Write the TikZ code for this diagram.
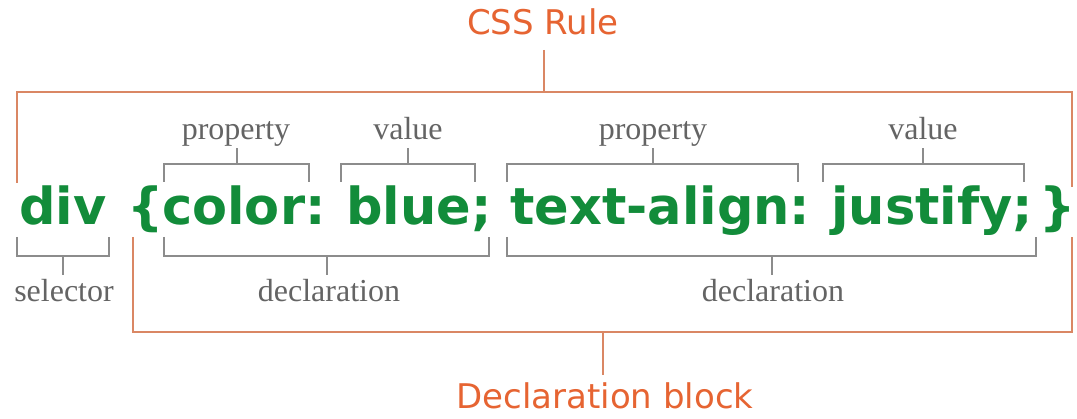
\documentclass[tikz,border=0pt]{standalone}
\usepackage{fontspec}
\newfontfamily\sansf{DejaVu Sans}
\newfontfamily\serf{Liberation Serif}
\definecolor{cssgreen}{RGB}{18,140,58}
\definecolor{orangetxt}{RGB}{230,100,50}
\definecolor{orangeln}{RGB}{218,135,100}
\definecolor{grayln}{RGB}{140,140,140}
\definecolor{graytxt}{RGB}{100,100,100}
\tikzset{
  code/.style={anchor=base west, inner sep=0pt, text=cssgreen, font=\sansf\bfseries\fontsize{51}{60}\selectfont},
  glabel/.style={anchor=base, inner sep=0pt, text=graytxt, font=\serf\fontsize{32}{38}\selectfont},
  olabel/.style={anchor=base, inner sep=0pt, text depth=0pt, text=orangetxt, font=\sansf\fontsize{34}{40}\selectfont},
  graybr/.style={draw=grayln, line width=2pt},
  orangebr/.style={draw=orangeln, line width=2pt},
}
\begin{document}
\begin{tikzpicture}[x=1pt,y=-1pt]
\useasboundingbox (0,0) rectangle (1077,419);
% titles
\node[olabel] (rule) at (543,35) {CSS Rule};
\node[olabel] (block) at (605,409) {Declaration block};
% code
\node[code] (div) at (19,225) {div};
\node[code] (ob) at (127,225) {\{};
\node[code] (color) at (162,225) {color:};
\node[code] (blue) at (346,225) {blue;};
\node[code] (talign) at (510,225) {text-align:};
\node[code] (justify) at (831,225) {justify;};
\node[code] (cb) at (1039,225) {\}};
% gray labels
\node[glabel] (prop1) at (236,140) {property};
\node[glabel] (val1) at (408,140) {value};
\node[glabel] (prop2) at (653,140) {property};
\node[glabel] (val2) at (923,140) {value};
\node[glabel] (sel) at (64,302) {selector};
\node[glabel] (decl1) at (329,302) {declaration};
\node[glabel] (decl2) at (773,302) {declaration};
% orange brackets
\coordinate (ruletop) at (544,50);
\draw[orangebr] (ruletop) -- (544,92);
\draw[orangebr] (17,183) -- (17,92) -- (1072,92) -- (1072,187);
\coordinate (blockstem) at (603,375);
\draw[orangebr] (133,237) -- (133,332) -- (1072,332) -- (1072,237);
\draw[orangebr] (603,332) -- (blockstem);
% gray top brackets
\draw[graybr] (164,182) -- (164,164) -- (309,164) -- (309,182);
\draw[graybr] (237,164) -- (237,148);
\draw[graybr] (341,182) -- (341,164) -- (475,164) -- (475,182);
\draw[graybr] (408,164) -- (408,148);
\draw[graybr] (507,182) -- (507,164) -- (798,164) -- (798,182);
\draw[graybr] (653,164) -- (653,148);
\draw[graybr] (823,182) -- (823,164) -- (1024,164) -- (1024,182);
\draw[graybr] (923,164) -- (923,148);
% gray bottom brackets
\draw[graybr] (17,237) -- (17,256) -- (109,256) -- (109,237);
\draw[graybr] (63,256) -- (63,275);
\draw[graybr] (164,237) -- (164,256) -- (489,256) -- (489,237);
\draw[graybr] (327,256) -- (327,275);
\draw[graybr] (507,237) -- (507,256) -- (1036,256) -- (1036,237);
\draw[graybr] (772,256) -- (772,275);
\end{tikzpicture}
\end{document}
